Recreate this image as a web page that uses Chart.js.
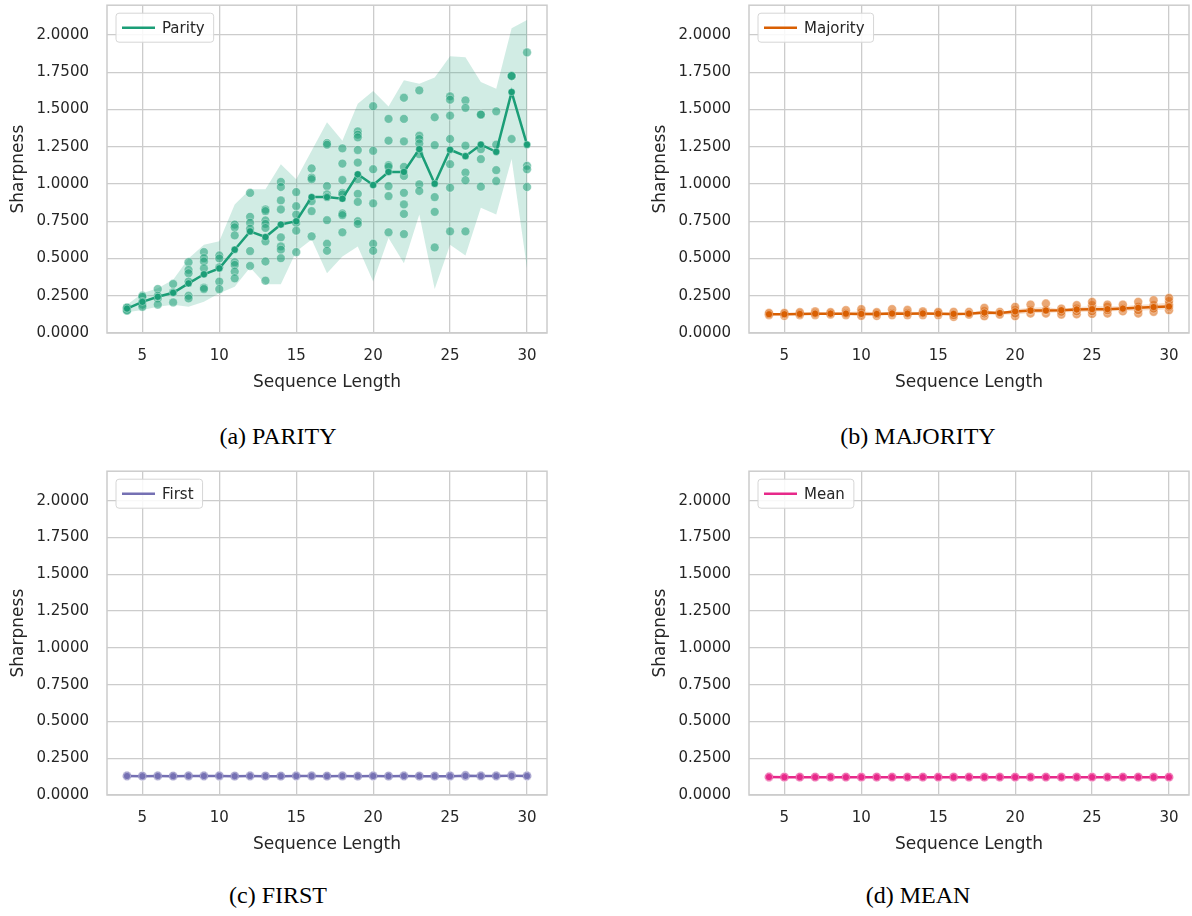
<!DOCTYPE html>
<html>
<head>
<meta charset="utf-8">
<script src="https://cdn.jsdelivr.net/npm/chart.js@4.4.1/dist/chart.umd.min.js"></script>
<style>
  body { margin: 0; background: #fff; width: 1192px; height: 916px; position: relative; overflow: hidden; }
  .panel { position: absolute; width: 596px; }
  .panel canvas { display: block; }
  .cap { position: absolute; width: 556px; text-align: center; font-family: "Liberation Serif", "Times New Roman", serif; font-size: 24px; line-height: 28px; color: #000; }
</style>
</head>
<body>
<div class="panel" style="left:0;top:0;height:400px"><canvas id="c1" width="596" height="400"></canvas></div>
<div class="panel" style="left:642px;top:0;height:400px"><canvas id="c2" width="596" height="400"></canvas></div>
<div class="panel" style="left:0;top:466px;height:396px"><canvas id="c3" width="596" height="396"></canvas></div>
<div class="panel" style="left:642px;top:466px;height:396px"><canvas id="c4" width="596" height="396"></canvas></div>
<div class="cap" style="left:0;top:422px">(a) PARITY</div>
<div class="cap" style="left:640px;top:422px">(b) MAJORITY</div>
<div class="cap" style="left:0;top:881px">(c) FIRST</div>
<div class="cap" style="left:640px;top:881px">(d) MEAN</div>
<script>
// Sequence lengths (x) and axis ticks
const lengths = [4, 5, 6, 7, 8, 9, 10, 11, 12, 13, 14, 15, 16, 17, 18, 19, 20, 21, 22, 23, 24, 25, 26, 27, 28, 29, 30];
const xTicks = [5, 10, 15, 20, 25, 30];
const yTicks = [0, 0.25, 0.5, 0.75, 1.0, 1.25, 1.5, 1.75, 2.0];

// Parity
const parityMean = [0.164, 0.209, 0.243, 0.27, 0.333, 0.394, 0.434, 0.559, 0.682, 0.644, 0.728, 0.75, 0.912, 0.912, 0.901, 1.065, 0.993, 1.081, 1.081, 1.234, 1.002, 1.23, 1.187, 1.264, 1.216, 1.617, 1.264];
const parityLow = [0.14, 0.155, 0.176, 0.19, 0.176, 0.209, 0.266, 0.31, 0.44, 0.327, 0.327, 0.547, 0.628, 0.401, 0.514, 0.581, 0.345, 0.637, 0.468, 0.795, 0.295, 0.593, 0.52, 0.84, 0.795, 1.167, 0.435];
const parityHigh = [0.19, 0.266, 0.30, 0.357, 0.50, 0.593, 0.615, 0.863, 0.964, 0.964, 1.133, 1.032, 1.223, 1.414, 1.29, 1.538, 1.624, 1.52, 1.696, 1.673, 1.714, 1.858, 1.85, 1.684, 1.64, 2.045, 2.10];
const parityRuns = [
  [0.17, 0.165, 0.155, 0.15, 0.17],
  [0.25, 0.243, 0.209, 0.19, 0.176],
  [0.295, 0.25, 0.232, 0.191],
  [0.329, 0.272, 0.205],
  [0.475, 0.424, 0.401, 0.345, 0.25, 0.232],
  [0.543, 0.502, 0.48, 0.434, 0.304, 0.295],
  [0.52, 0.50, 0.441, 0.345, 0.295],
  [0.728, 0.709, 0.655, 0.475, 0.457, 0.412, 0.367],
  [0.94, 0.78, 0.74, 0.70, 0.55, 0.45],
  [0.829, 0.818, 0.755, 0.732, 0.705, 0.615, 0.48, 0.351],
  [1.014, 0.98, 0.89, 0.829, 0.642, 0.581, 0.559, 0.502],
  [0.946, 0.851, 0.795, 0.739, 0.687, 0.543],
  [1.104, 1.043, 1.032, 0.885, 0.818, 0.649],
  [1.275, 1.264, 0.986, 0.93, 0.912, 0.757, 0.599, 0.552],
  [1.239, 1.137, 1.027, 0.941, 0.93, 0.802, 0.791, 0.676],
  [1.353, 1.331, 1.313, 1.228, 1.144, 1.032, 0.934, 0.88, 0.75, 0.732],
  [1.522, 1.223, 1.099, 0.87, 0.599, 0.552],
  [1.437, 1.291, 1.126, 1.115, 0.986, 0.919, 0.676],
  [1.579, 1.437, 1.286, 1.115, 1.054, 0.941, 0.863, 0.799, 0.664],
  [1.628, 1.324, 1.302, 1.272, 1.2, 0.998, 0.953],
  [1.448, 1.261, 0.912, 0.813, 0.574],
  [1.588, 1.566, 1.459, 1.302, 1.133, 0.975, 0.682],
  [1.561, 1.511, 1.257, 1.077, 1.025, 0.682],
  [1.466, 1.466, 1.234, 1.167, 0.982],
  [1.488, 1.264, 1.093, 1.02],
  [1.725, 1.725, 1.725, 1.302],
  [1.883, 1.122, 1.099, 0.98]
];

// Majority
const majorityMean = [0.126, 0.126, 0.128, 0.13, 0.13, 0.13, 0.128, 0.128, 0.131, 0.13, 0.131, 0.13, 0.128, 0.13, 0.137, 0.134, 0.145, 0.151, 0.151, 0.153, 0.158, 0.16, 0.16, 0.164, 0.169, 0.174, 0.178];
const majorityLow = [0.12, 0.118, 0.12, 0.12, 0.124, 0.12, 0.118, 0.118, 0.12, 0.12, 0.12, 0.12, 0.115, 0.124, 0.12, 0.124, 0.125, 0.135, 0.135, 0.14, 0.14, 0.145, 0.145, 0.15, 0.15, 0.155, 0.16];
const majorityHigh = [0.132, 0.134, 0.136, 0.14, 0.136, 0.14, 0.148, 0.136, 0.145, 0.145, 0.14, 0.138, 0.138, 0.138, 0.155, 0.14, 0.16, 0.17, 0.175, 0.16, 0.175, 0.18, 0.18, 0.18, 0.19, 0.195, 0.205];
const majorityRuns = [
  [0.12, 0.126, 0.135], [0.115, 0.126, 0.135], [0.12, 0.128, 0.14], [0.12, 0.13, 0.145],
  [0.124, 0.13, 0.14], [0.12, 0.13, 0.153], [0.115, 0.137, 0.16], [0.115, 0.128, 0.14],
  [0.12, 0.131, 0.16], [0.12, 0.131, 0.155], [0.12, 0.131, 0.145], [0.12, 0.131, 0.142],
  [0.108, 0.12, 0.142], [0.124, 0.142], [0.113, 0.131, 0.146, 0.169], [0.124, 0.142],
  [0.113, 0.131, 0.153, 0.176], [0.131, 0.153, 0.191], [0.131, 0.153, 0.198], [0.124, 0.142, 0.164],
  [0.126, 0.146, 0.164, 0.187], [0.128, 0.146, 0.164, 0.187, 0.209], [0.131, 0.153, 0.176, 0.191],
  [0.146, 0.164, 0.191], [0.131, 0.153, 0.176, 0.209], [0.142, 0.164, 0.187, 0.22],
  [0.153, 0.176, 0.191, 0.214, 0.236]
];

// First
const firstMean = [0.129, 0.128, 0.129, 0.128, 0.129, 0.129, 0.129, 0.128, 0.129, 0.128, 0.128, 0.129, 0.129, 0.128, 0.129, 0.128, 0.129, 0.128, 0.129, 0.128, 0.128, 0.128, 0.130, 0.129, 0.129, 0.130, 0.129];
const firstLow = [0.125, 0.124, 0.125, 0.124, 0.125, 0.125, 0.125, 0.124, 0.125, 0.124, 0.124, 0.125, 0.125, 0.124, 0.125, 0.124, 0.125, 0.124, 0.125, 0.124, 0.124, 0.124, 0.125, 0.125, 0.125, 0.125, 0.125];
const firstHigh = [0.133, 0.132, 0.133, 0.132, 0.134, 0.133, 0.134, 0.132, 0.133, 0.132, 0.132, 0.133, 0.133, 0.132, 0.134, 0.132, 0.133, 0.132, 0.133, 0.132, 0.132, 0.133, 0.136, 0.133, 0.133, 0.137, 0.133];
const firstRuns = [
  [0.127, 0.129, 0.131], [0.126, 0.128, 0.130], [0.127, 0.129, 0.131], [0.126, 0.128, 0.130],
  [0.127, 0.129, 0.132], [0.127, 0.129, 0.131], [0.127, 0.129, 0.132], [0.126, 0.128, 0.130],
  [0.127, 0.129, 0.131], [0.126, 0.128, 0.130], [0.126, 0.128, 0.130], [0.127, 0.129, 0.131],
  [0.127, 0.129, 0.131], [0.126, 0.128, 0.130], [0.127, 0.129, 0.132], [0.126, 0.128, 0.130],
  [0.127, 0.129, 0.131], [0.126, 0.128, 0.130], [0.127, 0.129, 0.131], [0.126, 0.128, 0.130],
  [0.126, 0.128, 0.130], [0.126, 0.128, 0.131], [0.127, 0.129, 0.135], [0.127, 0.129, 0.131],
  [0.127, 0.129, 0.131], [0.127, 0.129, 0.136], [0.127, 0.129, 0.131]
];

// Mean
const meanMean = [0.122, 0.121, 0.121, 0.121, 0.121, 0.121, 0.121, 0.121, 0.121, 0.121, 0.121, 0.121, 0.121, 0.121, 0.121, 0.121, 0.121, 0.121, 0.121, 0.121, 0.121, 0.121, 0.121, 0.121, 0.121, 0.121, 0.121];
const meanLow = [0.119, 0.118, 0.118, 0.118, 0.118, 0.118, 0.118, 0.118, 0.118, 0.118, 0.118, 0.118, 0.118, 0.118, 0.118, 0.118, 0.118, 0.118, 0.118, 0.118, 0.118, 0.118, 0.118, 0.118, 0.118, 0.118, 0.118];
const meanHigh = [0.125, 0.124, 0.124, 0.124, 0.124, 0.124, 0.124, 0.124, 0.124, 0.124, 0.124, 0.124, 0.124, 0.124, 0.124, 0.124, 0.124, 0.124, 0.124, 0.124, 0.124, 0.124, 0.124, 0.124, 0.124, 0.124, 0.124];
const meanRuns = [
  [0.120, 0.122, 0.124], [0.119, 0.121, 0.123], [0.119, 0.121, 0.123], [0.119, 0.121, 0.123],
  [0.119, 0.121, 0.123], [0.119, 0.121, 0.123], [0.119, 0.121, 0.123], [0.119, 0.121, 0.123],
  [0.119, 0.121, 0.123], [0.119, 0.121, 0.123], [0.119, 0.121, 0.123], [0.119, 0.121, 0.123],
  [0.119, 0.121, 0.123], [0.119, 0.121, 0.123], [0.119, 0.121, 0.123], [0.119, 0.121, 0.123],
  [0.119, 0.121, 0.123], [0.119, 0.121, 0.123], [0.119, 0.121, 0.123], [0.119, 0.121, 0.123],
  [0.119, 0.121, 0.123], [0.119, 0.121, 0.123], [0.119, 0.121, 0.123], [0.119, 0.121, 0.123],
  [0.119, 0.121, 0.123], [0.119, 0.121, 0.123], [0.119, 0.121, 0.123]
];

const panels = [
  { id: "c1", label: "Parity", rgb: [27, 158, 119], mean: parityMean, low: parityLow, high: parityHigh, runs: parityRuns },
  { id: "c2", label: "Majority", rgb: [217, 95, 2], mean: majorityMean, low: majorityLow, high: majorityHigh, runs: majorityRuns },
  { id: "c3", label: "First", rgb: [117, 112, 179], mean: firstMean, low: firstLow, high: firstHigh, runs: firstRuns },
  { id: "c4", label: "Mean", rgb: [231, 41, 138], mean: meanMean, low: meanLow, high: meanHigh, runs: meanRuns },
];

Chart.defaults.font.family = '"DejaVu Sans", sans-serif';
Chart.defaults.color = "#262626";

const rgba = (rgb, a) => `rgba(${rgb[0]}, ${rgb[1]}, ${rgb[2]}, ${a})`;
const toXY = (vals) => vals.map((v, i) => ({ x: lengths[i], y: v }));
function runPoints(runs) {
  const pts = [];
  runs.forEach((vals, i) => vals.forEach((v) => pts.push({ x: lengths[i], y: v })));
  return pts;
}

// frame around the plot area + legend box in the top-left corner
const axesFrame = {
  id: "axesFrame",
  beforeDatasetsDraw(chart) {
    const { ctx, chartArea: a } = chart;
    ctx.save();
    ctx.strokeStyle = "#cccccc";
    ctx.lineWidth = 1.5;
    ctx.strokeRect(a.left, a.top, a.right - a.left, a.bottom - a.top);
    ctx.restore();
  },
  afterDatasetsDraw(chart) {
    const ds = chart.data.datasets.find((d) => d.label);
    const { ctx, chartArea: a } = chart;
    ctx.save();
    ctx.font = '15px "DejaVu Sans"';
    const w = 47 + ctx.measureText(ds.label).width + 8;
    const x = a.left + 9, y = a.top + 8, h = 29;
    ctx.beginPath();
    ctx.roundRect(x, y, w, h, 3);
    ctx.fillStyle = "rgba(255,255,255,0.85)";
    ctx.fill();
    ctx.strokeStyle = "#d6d6d6";
    ctx.lineWidth = 1;
    ctx.stroke();
    ctx.beginPath();
    ctx.moveTo(x + 6, y + h / 2);
    ctx.lineTo(x + 39, y + h / 2);
    ctx.strokeStyle = ds.borderColor;
    ctx.lineWidth = 2.5;
    ctx.stroke();
    ctx.fillStyle = "#262626";
    ctx.textBaseline = "middle";
    ctx.fillText(ds.label, x + 46, y + h / 2 + 1);
    ctx.restore();
  },
};

function makeChart(p) {
  const ctx = document.getElementById(p.id).getContext("2d");
  new Chart(ctx, {
    type: "line",
    data: {
      datasets: [
        { data: toXY(p.low), borderWidth: 0, pointRadius: 0, fill: false, order: 3 },
        { data: toXY(p.high), borderWidth: 0, pointRadius: 0, fill: "-1", backgroundColor: rgba(p.rgb, 0.2), order: 2 },
        {
          type: "scatter",
          data: runPoints(p.runs),
          pointRadius: 4.4,
          backgroundColor: rgba(p.rgb, 0.55),
          borderColor: "rgba(255,255,255,0.45)",
          borderWidth: 0.8,
          order: 1,
        },
        {
          label: p.label,
          data: toXY(p.mean),
          borderColor: rgba(p.rgb, 1),
          backgroundColor: rgba(p.rgb, 1),
          borderWidth: 2.5,
          pointRadius: 3.6,
          pointBorderColor: "rgba(255,255,255,0.6)",
          pointBorderWidth: 0.6,
          tension: 0,
          order: 0,
        },
      ],
    },
    options: {
      responsive: false,
      animation: false,
      layout: { padding: { left: 0, top: 5, right: 49, bottom: 0 } },
      plugins: { legend: { display: false }, tooltip: { enabled: false } },
      scales: {
        x: {
          type: "linear",
          min: 2.7,
          max: 31.3,
          afterBuildTicks: (s) => { s.ticks = xTicks.map((v) => ({ value: v })); },
          afterFit: (s) => { s.height = 67; s.paddingLeft = 0; s.paddingRight = 0; },
          grid: { color: "#cccccc", lineWidth: 1.3, drawTicks: false },
          border: { display: false },
          ticks: { font: { size: 15 }, padding: 14, callback: (v) => String(v) },
          title: { display: true, text: "Sequence Length", font: { size: 17 }, padding: { top: 7, bottom: 7 } },
        },
        y: {
          min: 0,
          max: 2.2,
          afterBuildTicks: (s) => { s.ticks = yTicks.map((v) => ({ value: v })); },
          afterFit: (s) => { s.width = 107; s.paddingTop = 0; s.paddingBottom = 0; },
          grid: { color: "#cccccc", lineWidth: 1.3, drawTicks: false },
          border: { display: false },
          ticks: { font: { size: 15 }, padding: 18, callback: (v) => Number(v).toFixed(4) },
          title: { display: true, text: "Sharpness", font: { size: 17 }, padding: { top: 8, bottom: 8 } },
        },
      },
    },
    plugins: [axesFrame],
  });
}

window.onload = () => {
  panels.forEach((p) => makeChart(p));
};
</script>
</body>
</html>
